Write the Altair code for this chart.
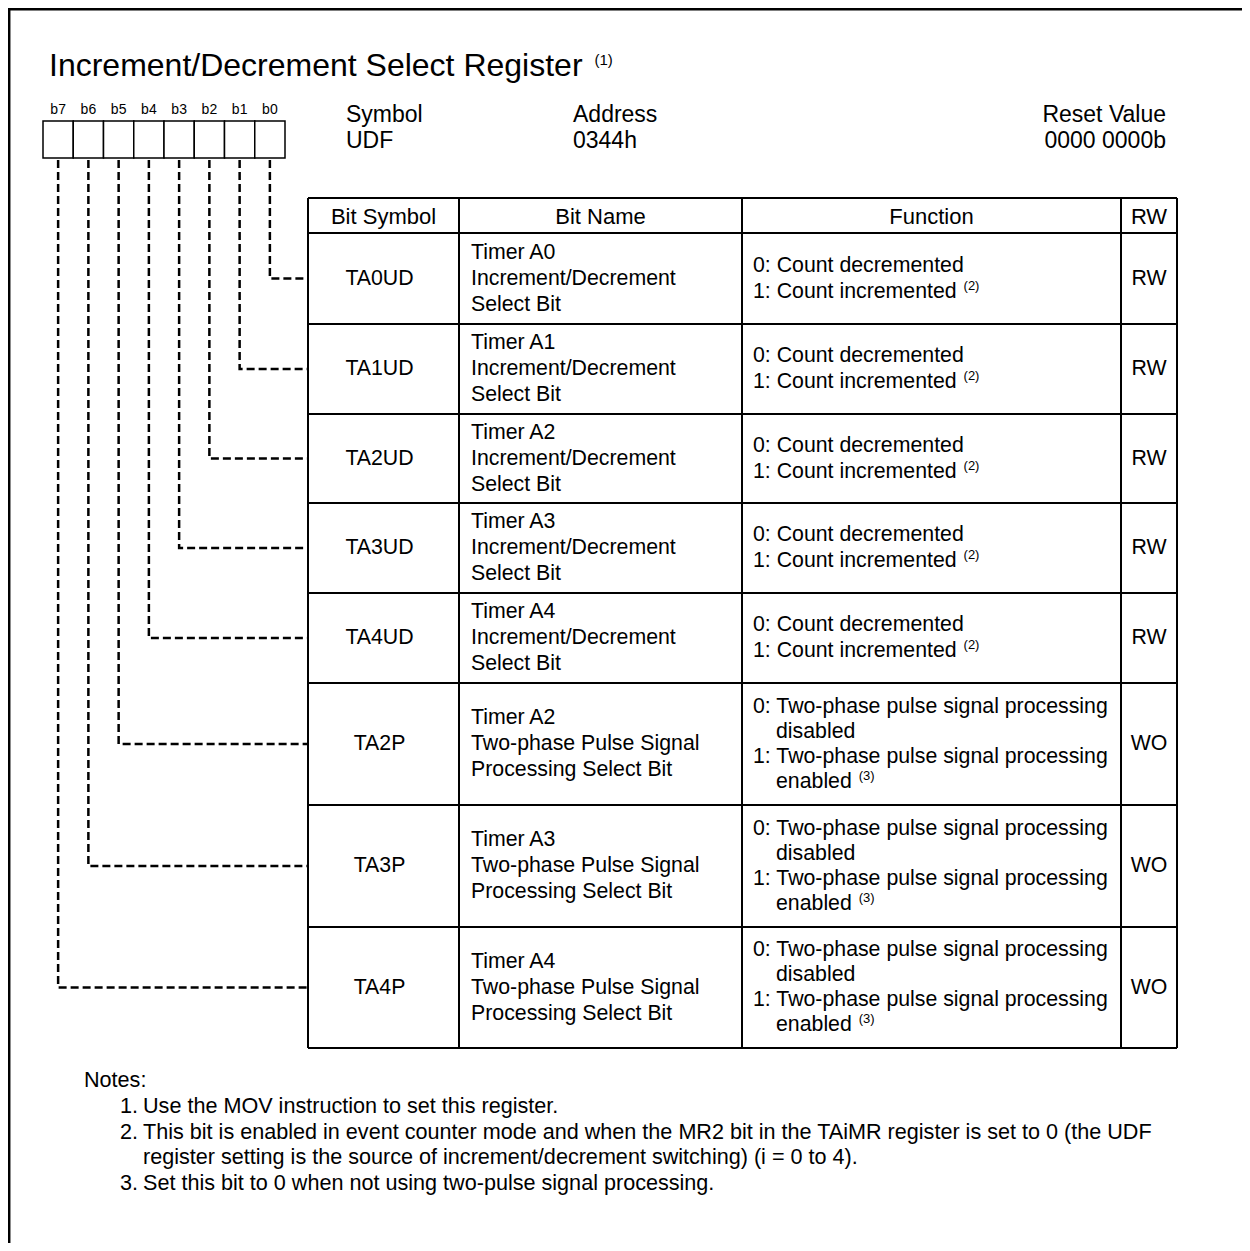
import altair as alt
import pandas as pd

# ---------------- content ----------------
TITLE = "Increment/Decrement Select Register"
TITLE_NOTE = "(1)"
BIT_LABELS = ["b7", "b6", "b5", "b4", "b3", "b2", "b1", "b0"]
INFO_LABELS = ["Symbol", "Address", "Reset Value"]
INFO_VALUES = ["UDF", "0344h", "0000 0000b"]
HEADERS = ["Bit Symbol", "Bit Name", "Function", "RW"]
BIT_SYMBOLS = ["TA0UD", "TA1UD", "TA2UD", "TA3UD", "TA4UD", "TA2P", "TA3P", "TA4P"]
BIT_NAMES = [
    ["Timer A0", "Increment/Decrement", "Select Bit"],
    ["Timer A1", "Increment/Decrement", "Select Bit"],
    ["Timer A2", "Increment/Decrement", "Select Bit"],
    ["Timer A3", "Increment/Decrement", "Select Bit"],
    ["Timer A4", "Increment/Decrement", "Select Bit"],
    ["Timer A2", "Two-phase Pulse Signal", "Processing Select Bit"],
    ["Timer A3", "Two-phase Pulse Signal", "Processing Select Bit"],
    ["Timer A4", "Two-phase Pulse Signal", "Processing Select Bit"],
]
# (text, continuation line?, superscript)
FUNC_UD = [("0: Count decremented", False, ""), ("1: Count incremented", False, "(2)")]
FUNC_P = [
    ("0: Two-phase pulse signal processing", False, ""),
    ("disabled", True, ""),
    ("1: Two-phase pulse signal processing", False, ""),
    ("enabled", True, "(3)"),
]
FUNCTIONS = [FUNC_UD] * 5 + [FUNC_P] * 3
ACCESS = ["RW"] * 5 + ["WO"] * 3
NOTES_HEAD = "Notes:"
NOTE_NUMS = ["1.", "2.", "3."]
NOTE_LINES = [
    ["Use the MOV instruction to set this register."],
    ["This bit is enabled in event counter mode and when the MR2 bit in the TAiMR register is set to 0 (the UDF",
     "register setting is the source of increment/decrement switching) (i = 0 to 4)."],
    ["Set this bit to 0 when not using two-pulse signal processing."],
]

# ---------------- layout (page pixels) ----------------
W, H = 1234, 1235
FONT = "Liberation Sans"
COL_EDGES = [308, 459, 742, 1121, 1177]
HEAD_TOP = 198
ROW_EDGES = [233, 324, 414, 503, 593, 683, 805, 927, 1048]
BOX_L, BOX_R, BOX_T, BOX_B = 43, 285, 121, 158
S_TITLE, S_INFO, S_HEAD, S_BODY, S_NOTE, S_SUP, S_BIT = 32, 23, 22, 21.3, 21.6, 13, 14

ARIAL = {" ": 278, "(": 333, ")": 333, "-": 333, ".": 278, "/": 278, ":": 278, "=": 584,
         "A": 667, "B": 667, "C": 722, "D": 722, "E": 667, "I": 278, "M": 833, "O": 778,
         "R": 722, "S": 667, "T": 611, "U": 722, "V": 667,
         "a": 556, "b": 556, "c": 500, "d": 556, "e": 556, "f": 278, "g": 556, "h": 556,
         "i": 222, "l": 222, "m": 833, "n": 556, "o": 556, "p": 556, "r": 333, "s": 500,
         "t": 278, "u": 556, "w": 722, "y": 500}


def tw(s, size):
    return sum(ARIAL.get(c, 556) for c in s) / 1000.0 * size


XS = alt.Scale(domain=[8, 8 + W], zero=False, nice=False)
YS = alt.Scale(domain=[8, 8 + H], zero=False, nice=False, reverse=True)

texts = []  # x, y, text, size, align


def add(x, y, t, size, align="left"):
    texts.append(dict(x=x, y=y, text=t, size=size, align=align))


# title
add(49, 66, TITLE, S_TITLE)
add(49 + tw(TITLE + " ", S_TITLE) + 3, 60, TITLE_NOTE, 15)

# bit labels and boxes
cell_w = (BOX_R - BOX_L) / len(BIT_LABELS)
bit_cx = [BOX_L + cell_w * (i + 0.5) for i in range(len(BIT_LABELS))]
for i, b in enumerate(BIT_LABELS):
    add(bit_cx[i], 110, b, S_BIT, "center")

# info block
info_x = [(346, "left"), (573, "left"), (1166, "right")]
for (x, al), lab, val in zip(info_x, INFO_LABELS, INFO_VALUES):
    add(x, 115, lab, S_INFO, al)
    add(x, 141, val, S_INFO, al)

# header
col_c = [(COL_EDGES[i] + COL_EDGES[i + 1]) / 2 for i in range(4)]
for c, h in zip(col_c, HEADERS):
    add(c, (HEAD_TOP + ROW_EDGES[0]) / 2 + 1, h, S_HEAD, "center")

# rows
row_c = [(ROW_EDGES[i] + ROW_EDGES[i + 1]) / 2 for i in range(8)]
for r in range(8):
    yc = row_c[r]
    add(col_c[0] - 4, yc, BIT_SYMBOLS[r], S_BODY, "center")
    for k, ln in enumerate(BIT_NAMES[r]):
        add(COL_EDGES[1] + 12, yc + (k - 1) * 26, ln, S_BODY)
    f = FUNCTIONS[r]
    step = 26 if len(f) == 2 else 25
    for k, (ln, cont, sup) in enumerate(f):
        y = yc + (k - (len(f) - 1) / 2) * step
        x = COL_EDGES[2] + 11 + (23 if cont else 0)
        add(x, y, ln, S_BODY)
        if sup:
            add(x + tw(ln + " ", S_BODY) + 1, y - 6, sup, S_SUP)
    add(col_c[3], yc, ACCESS[r], S_BODY, "center")

# notes
add(84, 1081, NOTES_HEAD, S_NOTE)
ny = 1107
for num, lines in zip(NOTE_NUMS, NOTE_LINES):
    add(120, ny, num, S_NOTE)
    for ln in lines:
        add(143, ny, ln, S_NOTE)
        ny += 25.5

tdf = pd.DataFrame(texts)


def text_layer(align):
    return alt.Chart(tdf[tdf["align"] == align]).mark_text(
        align=align, baseline="middle", font=FONT, color="black"
    ).encode(
        x=alt.X("x:Q", scale=XS, axis=None),
        y=alt.Y("y:Q", scale=YS, axis=None),
        text="text:N",
        size=alt.Size("size:Q", scale=None, legend=None),
    )


# table rules
rules = []
for y in [HEAD_TOP] + ROW_EDGES:
    rules.append(dict(x=COL_EDGES[0], x2=COL_EDGES[-1], y=y, y2=y))
for x in COL_EDGES:
    rules.append(dict(x=x, x2=x, y=HEAD_TOP, y2=ROW_EDGES[-1]))
rdf = pd.DataFrame(rules)
rule_layer = alt.Chart(rdf).mark_rule(color="black", strokeWidth=2).encode(
    x=alt.X("x:Q", scale=XS, axis=None), x2="x2",
    y=alt.Y("y:Q", scale=YS, axis=None), y2="y2")

# frame (left and top)
fdf = pd.DataFrame([dict(x=9.2, x2=9.2, y=8, y2=8 + H), dict(x=8, x2=8 + W, y=9.2, y2=9.2)])
frame_layer = alt.Chart(fdf).mark_rule(color="black", strokeWidth=2.5).encode(
    x=alt.X("x:Q", scale=XS, axis=None), x2="x2",
    y=alt.Y("y:Q", scale=YS, axis=None), y2="y2")

# bit boxes
bdf = pd.DataFrame([dict(x=BOX_L + cell_w * i, x2=BOX_L + cell_w * (i + 1), y=BOX_T, y2=BOX_B)
                    for i in range(len(BIT_LABELS))])
box_layer = alt.Chart(bdf).mark_rect(fill="white", stroke="black", strokeWidth=1.5).encode(
    x=alt.X("x:Q", scale=XS, axis=None), x2="x2",
    y=alt.Y("y:Q", scale=YS, axis=None), y2="y2")

# dashed leaders: bit b0 -> first row, ..., b7 -> last row
lead = []
for r in range(8):
    bx = bit_cx[7 - r]
    pts = [(bx, BOX_B + 2), (bx, row_c[r]), (COL_EDGES[0], row_c[r])]
    for s, (x, y) in enumerate(pts):
        lead.append(dict(bit=BIT_LABELS[7 - r], seq=s, x=x, y=y))
ldf = pd.DataFrame(lead)
lead_layer = alt.Chart(ldf).mark_line(color="black", strokeWidth=2.5, strokeDash=[8, 4]).encode(
    x=alt.X("x:Q", scale=XS, axis=None),
    y=alt.Y("y:Q", scale=YS, axis=None),
    detail="bit:N", order="seq:Q")

chart = alt.layer(
    frame_layer, lead_layer, rule_layer, box_layer,
    text_layer("left"), text_layer("center"), text_layer("right"),
).properties(
    width=W, height=H, padding=0, autosize=alt.AutoSizeParams(type="none"),
    background="white",
).configure_view(stroke=None)

chart.save("out.html", embed_options={"renderer": "svg", "actions": False})
